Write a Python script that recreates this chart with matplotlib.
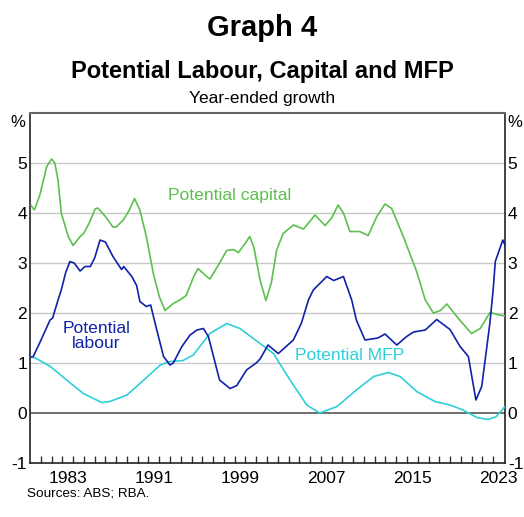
import matplotlib
matplotlib.use("Agg")
import matplotlib.pyplot as plt
import numpy as np

plt.rcParams['font.family'] = ['Liberation Sans', 'DejaVu Sans']

# values (year, % year-ended growth)
capital_years = [1980.1, 1980.4, 1980.9, 1981.55, 1982.0, 1982.3, 1982.6, 1982.9, 1983.55, 1984.0,
                 1984.65, 1985.0, 1985.5, 1986.04, 1986.3, 1987.0, 1987.7, 1988.0, 1988.66,
                 1989.2, 1989.7, 1990.2, 1990.8, 1991.45, 1992.0, 1992.53, 1993.3, 1993.9,
                 1994.5, 1995.2, 1995.6, 1996.4, 1996.7, 1997.6, 1998.26, 1998.9, 1999.35,
                 2000.0, 2000.4, 2000.8, 2001.36, 2001.9, 2002.4, 2002.9, 2003.5, 2004.45,
                 2005.4, 2006.46, 2007.4, 2008.0, 2008.6, 2009.1, 2009.7, 2010.6, 2011.4,
                 2012.2, 2012.96, 2013.58, 2014.66, 2015.9, 2016.7, 2017.45, 2018.1, 2018.7,
                 2019.9, 2021.0, 2021.8, 2022.7, 2023.4, 2024.1]
capital = [4.15, 4.06, 4.35, 4.93, 5.08, 5.0, 4.66, 4.0, 3.53, 3.35,
           3.53, 3.6, 3.8, 4.08, 4.1, 3.93, 3.72, 3.72, 3.86,
           4.05, 4.29, 4.06, 3.53, 2.79, 2.33, 2.05, 2.19, 2.26,
           2.35, 2.73, 2.89, 2.73, 2.68, 3.0, 3.25, 3.27, 3.21,
           3.4, 3.53, 3.3, 2.66, 2.25, 2.6, 3.26, 3.59, 3.76,
           3.68, 3.96, 3.75, 3.9, 4.16, 4.0, 3.63, 3.63, 3.55,
           3.93, 4.18, 4.09, 3.53, 2.83, 2.26, 2.0, 2.05, 2.18,
           1.86, 1.59, 1.69, 2.01, 1.97, 1.94]

labour_years = [1980.1, 1980.3, 1981.0, 1981.86, 1982.1, 1982.6, 1982.9, 1983.3, 1983.7,
                1984.1, 1984.65, 1985.1, 1985.6, 1986.0, 1986.5, 1987.0, 1987.7, 1988.5,
                1988.7, 1989.45, 1989.9, 1990.2, 1990.8, 1991.2, 1991.77, 1992.4, 1993.0,
                1993.3, 1994.1, 1994.86, 1995.5, 1996.1, 1996.56, 1997.6, 1998.57, 1999.2,
                2000.1, 2001.05, 2001.36, 2002.1, 2003.05, 2004.45, 2005.2, 2005.85, 2006.3,
                2007.55, 2008.2, 2009.1, 2009.87, 2010.3, 2011.1, 2012.3, 2012.96, 2014.05,
                2014.97, 2015.6, 2016.7, 2017.76, 2019.0, 2019.93, 2020.7, 2021.4, 2021.94,
                2022.7, 2023.0, 2023.2, 2023.9, 2024.1]
labour = [1.12, 1.13, 1.45, 1.86, 1.9, 2.26, 2.46, 2.8, 3.03,
          3.0, 2.84, 2.93, 2.93, 3.1, 3.46, 3.42, 3.13, 2.87,
          2.93, 2.73, 2.55, 2.23, 2.13, 2.16, 1.66, 1.13, 0.96,
          1.0, 1.33, 1.56, 1.66, 1.69, 1.53, 0.66, 0.49, 0.55,
          0.86, 1.01, 1.08, 1.36, 1.19, 1.46, 1.8, 2.26, 2.46,
          2.73, 2.65, 2.73, 2.26, 1.86, 1.46, 1.5, 1.58, 1.36,
          1.53, 1.62, 1.66, 1.87, 1.67, 1.33, 1.13, 0.26, 0.53,
          1.8, 2.46, 3.03, 3.46, 3.36]

mfp_years = [1980.1, 1980.5, 1981.9, 1983.4, 1984.95, 1986.66, 1987.4, 1989.0, 1990.2,
             1992.1, 1993.0, 1994.2, 1995.16, 1996.7, 1998.26, 1999.5, 2001.36, 2002.6,
             2004.14, 2005.7, 2006.9, 2008.5, 2010.3, 2011.9, 2013.27, 2014.36, 2015.9,
             2017.6, 2019.0, 2020.2, 2021.5, 2022.55, 2023.3, 2024.1]
mfp = [1.12, 1.1, 0.93, 0.66, 0.39, 0.21, 0.23, 0.36, 0.59,
       0.96, 1.03, 1.05, 1.16, 1.59, 1.79, 1.69, 1.39, 1.19,
       0.66, 0.16, 0.0, 0.13, 0.46, 0.73, 0.81, 0.73, 0.43,
       0.23, 0.16, 0.06, -0.09, -0.13, -0.07, 0.13]

year_labels = [1983, 1991, 1999, 2007, 2015, 2023]
y_ticks = [-1, 0, 1, 2, 3, 4, 5]

green = '#5cbf4e'
blue = '#0f22a8'
cyan = '#2fcfd8'

fig = plt.figure(figsize=(5.24, 5.17), dpi=100)
ax = fig.add_axes([0.0573, 0.1044, 0.9064, 0.677])

for y in [1, 2, 3, 4, 5]:
    ax.axhline(y, color='#c8c8c8', lw=1, zorder=1)
ax.axhline(0, color='#555555', lw=1.2, zorder=1)

ax.plot(mfp_years, mfp, color=cyan, lw=1.2, zorder=3)
ax.plot(capital_years, capital, color=green, lw=1.2, zorder=3)
ax.plot(labour_years, labour, color=blue, lw=1.2, zorder=4)

ax.set_xlim(1980, 2024.1)
ax.set_ylim(-1, 6)

ax.set_yticks(y_ticks)
ax.set_yticklabels([str(v) for v in y_ticks])
ax.tick_params(axis='y', length=0, labelsize=12.5, pad=2,
               labelleft=True, labelright=True)
ax.text(-0.01, 5.82, '%', transform=ax.get_yaxis_transform(), ha='right', va='center', fontsize=12)
ax.text(1.004, 5.82, '%', transform=ax.get_yaxis_transform(), ha='left', va='center', fontsize=12)

ax.set_xticks(np.arange(1981, 2024), minor=True)
ax.set_xticks([y + 0.5 for y in year_labels])
ax.set_xticklabels([str(y) for y in year_labels])
ax.tick_params(axis='x', which='major', length=0, labelsize=12.5, pad=6)
ax.tick_params(axis='x', which='minor', direction='in', length=5, width=1, color='#333333')

for side in ['left', 'right', 'bottom']:
    ax.spines[side].set_color('#222222')
    ax.spines[side].set_linewidth(1.2)
ax.spines['top'].set_color('#666666')
ax.spines['top'].set_linewidth(1.5)

ax.text(1992.85, 4.35, 'Potential capital', color=green, fontsize=12.6, ha='left', va='center')
ax.text(1986.17, 1.55, 'Potential\nlabour', color=blue, fontsize=12.6, ha='center', va='center',
        linespacing=1.0)
ax.text(2004.6, 1.16, 'Potential MFP', color=cyan, fontsize=12.6, ha='left', va='center')

fig.text(0.5, 0.946, 'Graph 4', ha='center', va='center', fontsize=21, fontweight='bold')
fig.text(0.5, 0.861, 'Potential Labour, Capital and MFP', ha='center', va='center',
         fontsize=17, fontweight='bold')
fig.text(0.5, 0.81, 'Year-ended growth', ha='center', va='center', fontsize=12.5)
fig.text(0.052, 0.046, 'Sources: ABS; RBA.', ha='left', va='center', fontsize=9.7)

fig.savefig('out.png', dpi=100)
